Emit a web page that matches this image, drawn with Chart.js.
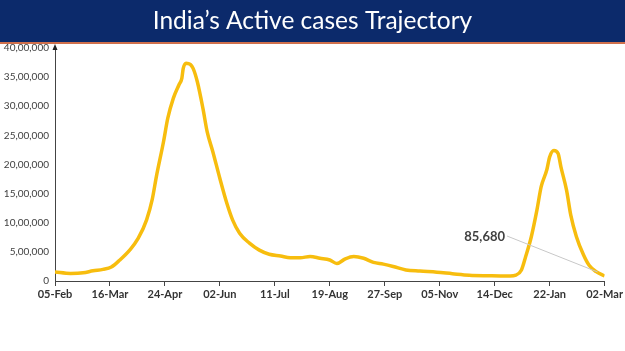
<!DOCTYPE html>
<html>
<head>
<meta charset="utf-8">
<script src="https://cdn.jsdelivr.net/npm/chart.js@4/dist/chart.umd.min.js"></script>
<style>
  html, body { margin: 0; padding: 0; background: #fff; }
  #wrap { position: relative; width: 625px; height: 351px; }
</style>
</head>
<body>
<div id="wrap"><canvas id="activeChart" width="625" height="351"></canvas></div>
<script>
const chartTitle = 'India\u2019s Active cases Trajectory';
const tickLabels = ['05-Feb','16-Mar','24-Apr','02-Jun','11-Jul','19-Aug','27-Sep','05-Nov','14-Dec','22-Jan','02-Mar'];
// day number counted from 05-Feb
const days = [0, 11, 20, 27, 34, 40, 46, 53, 59, 65, 69, 72, 77, 80, 84, 88, 90, 91, 93, 96, 98, 101,
  105, 108, 112, 117, 122, 126, 131, 138, 145, 152, 160, 167, 174, 181, 188, 195, 200, 206, 212,
  219, 226, 233, 240, 249, 259, 271, 282, 294, 308, 316, 323, 327, 331, 334, 338, 342, 345, 349, 351,
  354, 357, 359, 363, 366, 370, 375, 379, 384, 390];
const activeCases = [155000, 130000, 140000, 175000, 200000, 240000, 360000, 530000, 730000, 1050000,
  1400000, 1800000, 2390000, 2790000, 3140000, 3370000, 3480000, 3650000, 3740000, 3720000, 3650000, 3420000,
  2960000, 2560000, 2220000, 1760000, 1330000, 1050000, 820000, 650000, 530000, 460000, 430000,
  400000, 400000, 420000, 390000, 360000, 300000, 380000, 420000,
  390000, 320000, 290000, 250000, 190000, 170000, 150000, 125000, 100000, 90000, 86000, 86000, 100000,
  190000, 420000, 760000, 1220000, 1620000, 1910000, 2130000,
  2240000, 2190000, 1960000, 1560000, 1130000, 760000, 450000, 270000, 160000, 85680];
const lastLabel = '85,680';

const points = days.map((d, i) => ({ x: d, y: activeCases[i] }));

function indianFormat(n) {
  const s = String(Math.round(n));
  if (s.length <= 3) return s;
  const last3 = s.slice(-3);
  let rest = s.slice(0, -3);
  const parts = [];
  while (rest.length > 2) {
    parts.unshift(rest.slice(-2));
    rest = rest.slice(0, -2);
  }
  if (rest) parts.unshift(rest);
  return parts.join(',') + ',' + last3;
}

const bannerPlugin = {
  id: 'banner',
  beforeDraw(chart) {
    const c = chart.ctx;
    c.save();
    c.fillStyle = '#0c2a6b';
    c.fillRect(0, 0, chart.width, 42);
    c.fillStyle = '#d0704c';
    c.fillRect(0, 42, chart.width, 2);
    let size = 32;
    c.font = size + 'px Lato';
    while (c.measureText(chartTitle).width > 322 && size > 10) {
      size -= 0.5;
      c.font = size + 'px Lato';
    }
    c.fillStyle = '#ffffff';
    c.textAlign = 'center';
    c.textBaseline = 'middle';
    c.fillText(chartTitle, chart.width / 2, 21);
    c.restore();
  },
  afterDraw(chart) {
    const c = chart.ctx;
    const xs = chart.scales.x, ys = chart.scales.y;
    c.save();
    // arrow on y axis top
    const ax = xs.left, ay = ys.top;
    c.fillStyle = '#222';
    c.beginPath();
    c.moveTo(ax, ay - 4);
    c.lineTo(ax - 2.5, ay + 2);
    c.lineTo(ax + 2.5, ay + 2);
    c.closePath();
    c.fill();
    // callout for last value
    const px = xs.getPixelForValue(days[days.length - 1]);
    const py = ys.getPixelForValue(activeCases[activeCases.length - 1]);
    c.strokeStyle = '#c8c8c8';
    c.lineWidth = 1;
    c.beginPath();
    c.moveTo(507, 236);
    c.lineTo(px - 7, py - 4);
    c.stroke();
    c.fillStyle = '#404040';
    c.font = 'bold 13px Lato';
    c.textAlign = 'right';
    c.textBaseline = 'middle';
    c.fillText(lastLabel, 505, 237);
    c.restore();
  }
};

new Chart(document.getElementById('activeChart'), {
  type: 'line',
  data: {
    datasets: [{
      data: points,
      borderColor: '#f7bd0e',
      borderWidth: 3.5,
      pointRadius: 0,
      fill: false,
      cubicInterpolationMode: 'monotone'
    }]
  },
  options: {
    responsive: false,
    animation: false,
    events: [],
    layout: { padding: { top: 48, right: 20, left: 0, bottom: 0 } },
    plugins: { legend: { display: false }, tooltip: { enabled: false } },
    scales: {
      x: {
        type: 'linear',
        min: 0,
        max: 390,
        afterFit(scale) { scale.height = 70; },
        afterBuildTicks(scale) {
          scale.ticks = tickLabels.map((_, i) => ({ value: i * 39 }));
        },
        ticks: {
          autoSkip: false,
          maxRotation: 0,
          padding: 2,
          color: '#333',
          font: { family: 'Lato', size: 11, weight: 'bold' },
          callback: (v) => tickLabels[Math.round(v / 39)]
        },
        grid: { drawOnChartArea: false, drawTicks: true, tickLength: 5, color: '#444' },
        border: { display: true, color: '#444', width: 1 }
      },
      y: {
        min: 0,
        max: 4000000,
        afterFit(scale) { scale.width = 55; },
        ticks: {
          stepSize: 500000,
          padding: 6,
          color: '#404040',
          font: { family: 'Lato', size: 10 },
          callback: (v) => indianFormat(v)
        },
        grid: { drawOnChartArea: false, drawTicks: false },
        border: { display: true, color: '#444', width: 1 }
      }
    }
  },
  plugins: [bannerPlugin]
});
</script>
</body>
</html>
